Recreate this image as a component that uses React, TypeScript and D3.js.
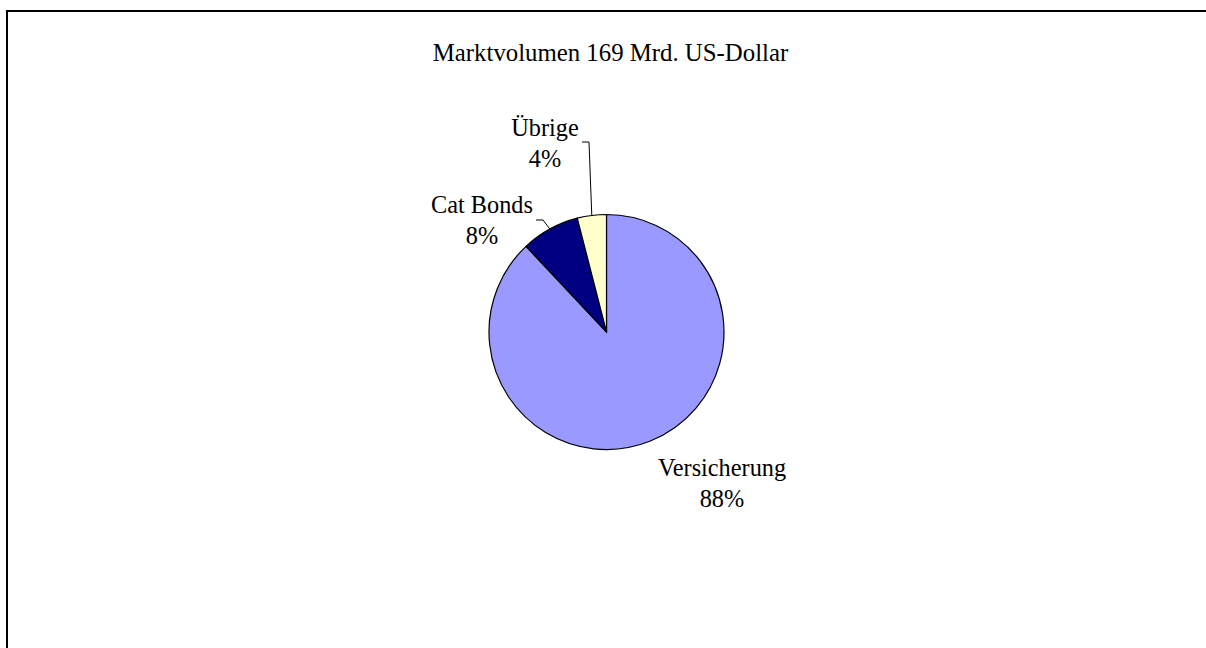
import React from "react";
import * as d3 from "d3";

const categories = ["Versicherung", "Cat Bonds", "Übrige"];
const shares = [88, 8, 4];
const colors = ["#9999FF", "#000080", "#FFFFCC"];
const title = "Marktvolumen 169 Mrd. US-Dollar";

// layout
const W = 1206;
const H = 648;
const CX = 606.5;
const CY = 332;
const R = 117.5;
const FONT = "'Liberation Serif', 'Times New Roman', serif";
// label centre x and first baseline y, plus optional leader elbow start
const labelLayout = [
  { x: 722, y: 476, leader: null as null | { x1: number; x2: number; y: number } },
  { x: 482, y: 213, leader: { x1: 536, x2: 543, y: 220 } },
  { x: 545, y: 136, leader: { x1: 582, x2: 589, y: 142 } },
];

export default function App() {
  const data = categories.map((c, i) => ({ name: c, value: shares[i], color: colors[i] }));
  const pie = d3
    .pie<{ name: string; value: number; color: string }>()
    .sort(null)
    .value((d) => d.value);
  const arcs = pie(data);
  const arc = d3.arc<d3.PieArcDatum<any>>().innerRadius(0).outerRadius(R);
  const edge = d3.arc<d3.PieArcDatum<any>>().innerRadius(R).outerRadius(R);
  const total = d3.sum(shares);

  return (
    <svg
      width={W}
      height={H}
      style={{ position: "absolute", left: 0, top: 0, background: "#fff" }}
      fontFamily={FONT}
    >
      <rect x={7} y={11} width={W + 20} height={H + 20} fill="#fff" stroke="#000" strokeWidth={2} />
      <text x={610.5} y={61} textAnchor="middle" fontSize={24.8} fill="#000">
        {title}
      </text>
      <g transform={`translate(${CX},${CY})`}>
        {arcs.map((a, i) => (
          <path key={i} d={arc(a) as string} fill={a.data.color} stroke="#000" strokeWidth={1.2} />
        ))}
      </g>
      {arcs.map((a, i) => {
        const L = labelLayout[i];
        const [mx, my] = edge.centroid(a);
        const pct = Math.round((a.data.value / total) * 100) + "%";
        return (
          <g key={i}>
            {L.leader && (
              <polyline
                points={`${L.leader.x1},${L.leader.y} ${L.leader.x2},${L.leader.y} ${CX + mx},${CY + my}`}
                fill="none"
                stroke="#000"
                strokeWidth={1}
              />
            )}
            <text x={L.x} y={L.y} textAnchor="middle" fontSize={24.3} fill="#000">
              {a.data.name}
            </text>
            <text x={L.x} y={L.y + 31} textAnchor="middle" fontSize={24.3} fill="#000">
              {pct}
            </text>
          </g>
        );
      })}
    </svg>
  );
}
